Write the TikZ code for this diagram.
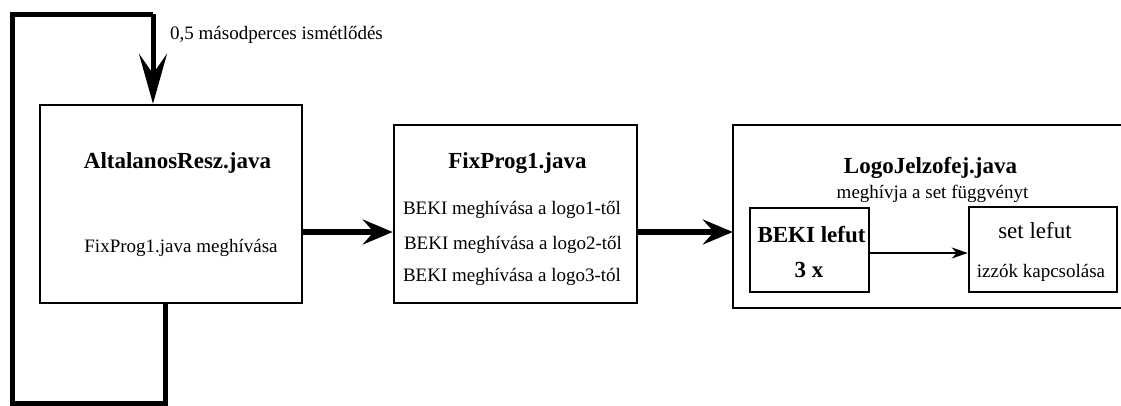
\documentclass[tikz,border=0pt]{standalone}
\usepackage{fontspec}
\setmainfont{Liberation Serif}
\newfontfamily\dfont{Liberation Serif}
\usetikzlibrary{arrows.meta,calc}
\begin{document}
\begin{tikzpicture}[x=1pt,y=-1pt,
  box/.style={draw,line width=2.5pt,minimum width=#1},
  txt/.style={anchor=base,inner sep=0pt,font=\dfont\fontsize{19}{22}\selectfont},
  ttl/.style={anchor=base,inner sep=0pt,font=\dfont\fontsize{23}{26}\selectfont\bfseries},
  bigarrow/.style={line width=6pt,-{Stealth[length=30pt,width=25pt,inset=11pt]}},
  looparrow/.style={line width=5pt,-{Stealth[length=50pt,width=28pt,inset=20pt]}},
  loopline/.style={line width=5pt},
  smallarrow/.style={line width=2pt,-{Stealth[length=16pt,width=11pt,inset=5pt]}}]
\useasboundingbox (0,0) rectangle (1121,405);
% boxes
\node[box=262pt,minimum height=198pt] (box1) at (171,204) {};
\node[box=243pt,minimum height=178pt] (box2) at (515.5,214) {};
\node[minimum width=394pt,minimum height=183pt,inner sep=0pt] (box3) at (930,216.5) {};
\draw[line width=2.5pt] (box3.north east) -- (box3.north west) -- (box3.south west) -- (box3.south east);
\node[box=119pt,minimum height=84pt] (ia) at (809.5,250) {};
\node[box=148pt,minimum height=85pt] (ib) at (1043,249.5) {};
% texts
\node[txt,anchor=base west] (lbl) at (170,39) {0,5 másodperces ismétlődés};
\node[ttl] (t1) at (177.5,168) {AltalanosResz.java};
\node[txt] (t1a) at (181,252) {FixProg1.java meghívása};
\node[ttl] (t2) at (517.5,168) {FixProg1.java};
\node[txt] (t2a) at (512,214) {BEKI meghívása a logo1-től};
\node[txt] (t2b) at (513,249) {BEKI meghívása a logo2-től};
\node[txt] (t2c) at (512,281) {BEKI meghívása a logo3-tól};
\node[ttl] (t3) at (930.5,173) {LogoJelzofej.java};
\node[txt] (t3a) at (932.5,198) {meghívja a set függvényt};
\node[ttl] (ta1) at (811.5,242) {BEKI lefut};
\node[ttl] (ta2) at (809,277) {3 x};
\node[txt,font=\dfont\fontsize{23}{26}\selectfont] (tb1) at (1035,238) {set lefut};
\node[txt] (tb2) at (1041,277) {izzók kapcsolása};
% connectors
\draw[bigarrow] ([yshift=-28pt]box1.east) -- ([yshift=-28pt]box1.east -| box2.west);
\draw[bigarrow] ([yshift=-18pt]box2.east) -- ([yshift=-18pt]box2.east -| box3.west);
\draw[smallarrow] ([yshift=-3pt]ia.east) -- ([yshift=-3pt]ia.east -| ib.west);
\coordinate (lb) at (165,403);
\coordinate (lt) at (12,14);
\draw[loopline] (box1.south -| lb) -- (lb) -- (lt |- lb) -- (lt) -- (153,14) coordinate (lr);
\draw[looparrow] (lr) -- (lr |- box1.north);
\end{tikzpicture}
\end{document}
